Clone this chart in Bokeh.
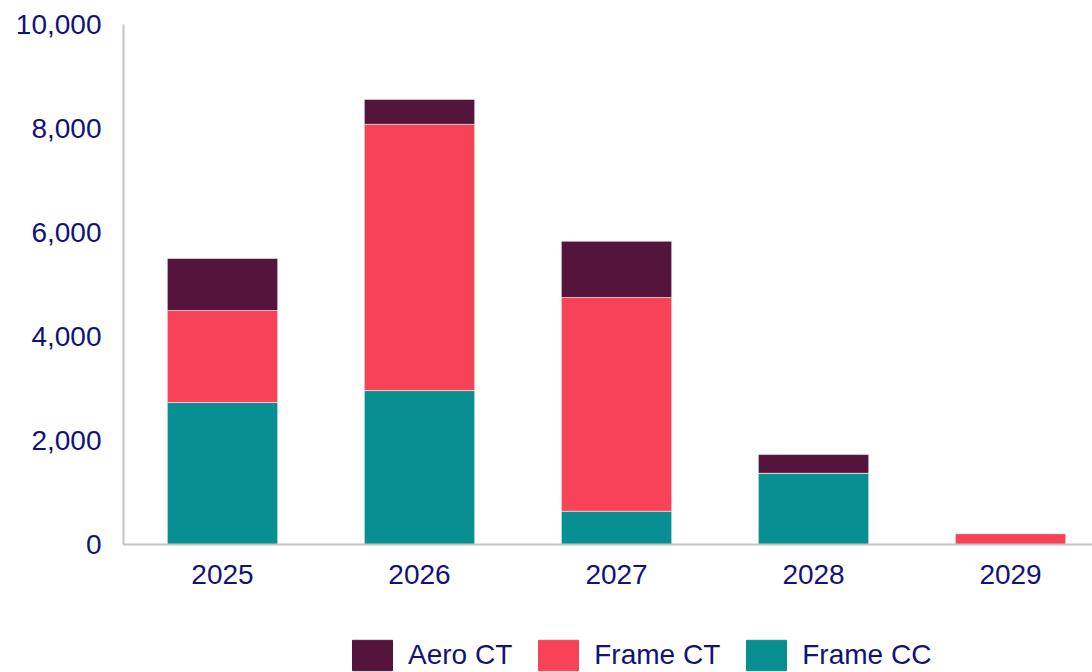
from bokeh.plotting import figure
from bokeh.layouts import column
from bokeh.models import ColumnDataSource, Range1d, FixedTicker, NumeralTickFormatter, Legend, LegendItem
from bokeh.embed import file_html
from bokeh.resources import INLINE

years = ["2025", "2026", "2027", "2028", "2029"]
frame_cc = [2730, 2960, 640, 1370, 0]
frame_ct = [1770, 5120, 4110, 0, 210]
aero_ct = [1000, 480, 1080, 360, 0]

series = ["frame_cc", "frame_ct", "aero_ct"]
names = {"frame_cc": "Frame CC", "frame_ct": "Frame CT", "aero_ct": "Aero CT"}
colors = ["#078f92", "#f84257", "#54143c"]

xs = list(range(len(years)))
source = ColumnDataSource(dict(x=xs, frame_cc=frame_cc, frame_ct=frame_ct, aero_ct=aero_ct))

FONT = "Liberation Sans"
TXT = "#12127a"

p = figure(width=1092, height=600, output_backend="svg", toolbar_location=None,
           x_range=Range1d(-0.5025, 4.416), y_range=Range1d(0, 10000),
           min_border_left=123, min_border_top=24, min_border_bottom=56, min_border_right=0)
p.outline_line_color = None
p.grid.visible = False

rs = p.vbar_stack(series, x="x", width=0.56, source=source, color=colors,
                  line_color="white", line_alpha=0.5, line_width=1)

p.xaxis.ticker = FixedTicker(ticks=xs)
p.xaxis.major_label_overrides = {i: y for i, y in enumerate(years)}
p.yaxis.ticker = FixedTicker(ticks=[0, 2000, 4000, 6000, 8000, 10000])
p.yaxis.formatter = NumeralTickFormatter(format="0,0")

for ax in (p.xaxis[0], p.yaxis[0]):
    ax.axis_line_color = "#c4c4c4"
    ax.axis_line_width = 2
    ax.major_tick_line_color = None
    ax.minor_tick_line_color = None
    ax.major_label_text_font = FONT
    ax.major_label_text_font_size = "28px"
    ax.major_label_text_color = TXT
p.xaxis.major_label_standoff = 14
p.yaxis.major_label_standoff = 16

# legend strip below the chart (proxy renderers lie outside its visible ranges)
lg = figure(width=1092, height=72, output_backend="svg", toolbar_location=None,
            x_axis_location=None, y_axis_location=None,
            x_range=Range1d(100, 101), y_range=Range1d(100, 101),
            min_border_left=0, min_border_right=0, min_border_top=0, min_border_bottom=0)
lg.grid.visible = False
lg.outline_line_color = None
proxies = {}
for s, c in zip(series, colors):
    proxies[s] = lg.vbar(x=[xs[0]], top=[1], width=0.5, color=c)

items = [LegendItem(label=names[s], renderers=[proxies[s]]) for s in reversed(series)]
legend = Legend(items=items, orientation="horizontal", location=(224, -2),
                glyph_width=50, glyph_height=38, label_text_font=FONT,
                label_text_font_size="28px", label_text_color=TXT,
                border_line_color=None, background_fill_alpha=0,
                padding=0, margin=0, spacing=21, label_standoff=11)
lg.add_layout(legend, "center")

layout = column(p, lg, spacing=0)
open("out.html", "w").write(file_html(layout, INLINE))
